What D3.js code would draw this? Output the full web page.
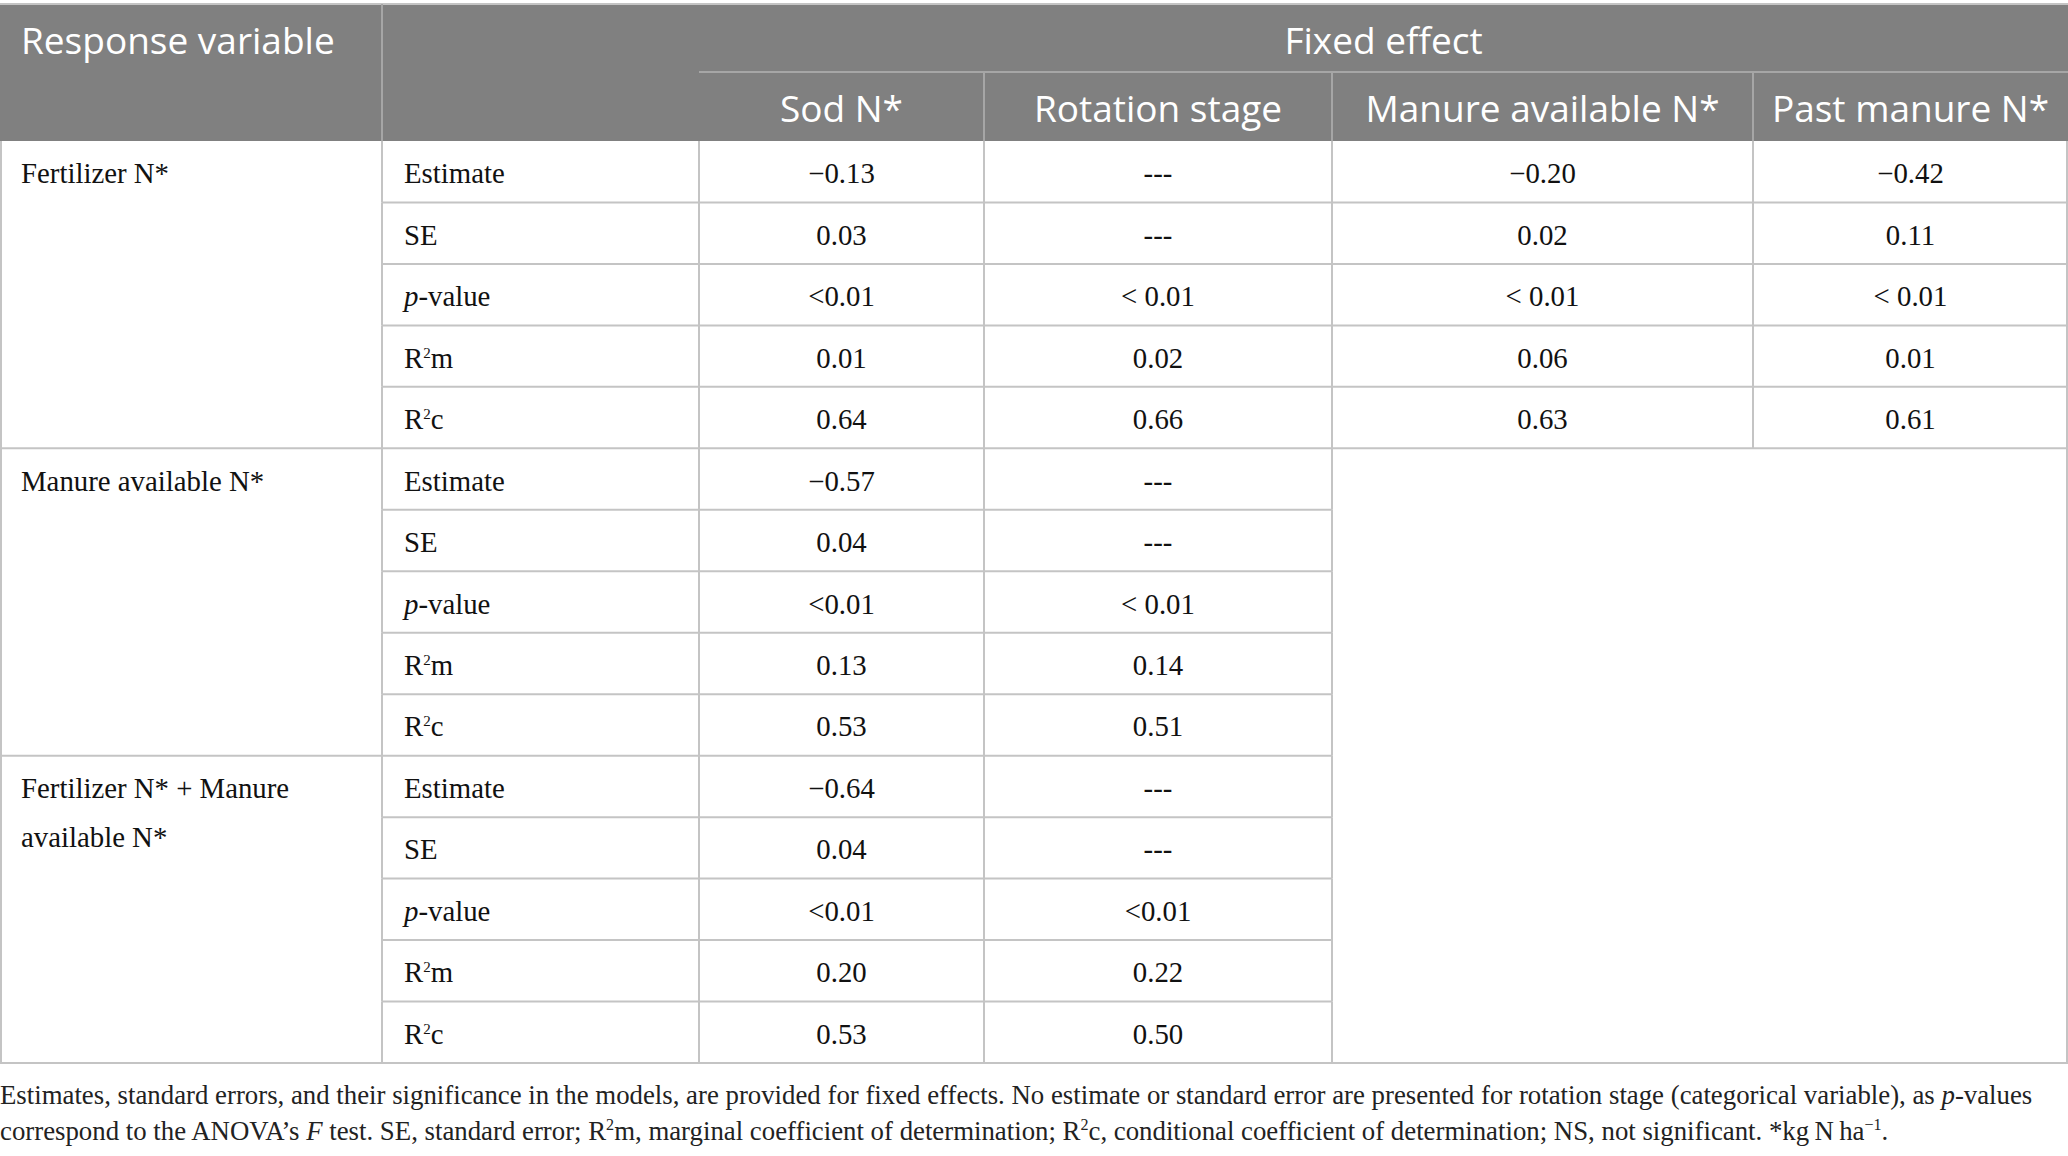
<!DOCTYPE html>
<html>
  <head>
    <meta charset="utf-8">
    <title>Fixed effects table</title>
    <style>
      body { margin: 0; background: #fff; }
    </style>
  </head>

  <body>
    <div id="container"></div>
  </body>

  <script src="https://cdn.jsdelivr.net/npm/d3@7"></script>

  <script>
  // table content
  var responseVars = ["Fertilizer N*", "Manure available N*", "Fertilizer N* + Manure available N*"];
  var fixedEffects = ["Sod N*", "Rotation stage", "Manure available N*", "Past manure N*"];
  var statistics = ["Estimate", "SE", "p-value", "R2m", "R2c"];

  // one row per statistic, one entry per fixed effect
  var fertilizerN = [
    ["\u22120.13", "---", "\u22120.20", "\u22120.42"],
    ["0.03", "---", "0.02", "0.11"],
    ["<0.01", "< 0.01", "< 0.01", "< 0.01"],
    ["0.01", "0.02", "0.06", "0.01"],
    ["0.64", "0.66", "0.63", "0.61"]
  ];
  var manureN = [
    ["\u22120.57", "---"],
    ["0.04", "---"],
    ["<0.01", "< 0.01"],
    ["0.13", "0.14"],
    ["0.53", "0.51"]
  ];
  var fertManureN = [
    ["\u22120.64", "---"],
    ["0.04", "---"],
    ["<0.01", "<0.01"],
    ["0.20", "0.22"],
    ["0.53", "0.50"]
  ];
  var groupValues = [fertilizerN, manureN, fertManureN];

  var captionLines = [
    "Estimates, standard errors, and their significance in the models, are provided for fixed effects. No estimate or standard error are presented for rotation stage (categorical variable), as |p|-values",
    "correspond to the ANOVA\u2019s |F| test. SE, standard error; R^2^m, marginal coefficient of determination; R^2^c, conditional coefficient of determination; NS, not significant. *kg\u2009N\u2009ha^\u22121^."
  ];

  function main() {
    var width = 2068, height = 1156;
    var serif = "'Liberation Serif', 'DejaVu Serif', serif";
    var sans = "'Open Sans', 'Noto Sans', sans-serif";
    var headFill = "#808080", gridCol = "#c4c4c4", headLine = "#a6a6a6";

    var svg = d3.select("#container").append("svg")
      .attr("width", width)
      .attr("height", height);

    // column edges
    var colKeys = ["response", "stat"].concat(fixedEffects);
    var edges = [0, 382, 699, 984, 1332, 1753, width];
    var x0 = d3.scaleOrdinal().domain(colKeys).range(edges.slice(0, 6));
    var x1 = d3.scaleOrdinal().domain(colKeys).range(edges.slice(1));
    var xc = function(k) { return (x0(k) + x1(k)) / 2; };

    var headTop = 4, headMid = 72, headBot = 141, tableBot = 1063;

    var rows = [];
    responseVars.forEach(function(r, gi) {
      statistics.forEach(function(s, si) {
        rows.push({ group: gi, stat: s, si: si, values: groupValues[gi][si] });
      });
    });
    var y = d3.scaleBand()
      .domain(d3.range(rows.length))
      .range([headBot, tableBot]);

    // header block
    svg.append("rect")
      .attr("x", 0).attr("y", headTop)
      .attr("width", width).attr("height", headBot - headTop)
      .attr("fill", headFill);
    svg.append("line")
      .attr("x1", 0).attr("x2", width).attr("y1", headTop).attr("y2", headTop)
      .attr("stroke", gridCol).attr("stroke-width", 2);
    svg.append("line")
      .attr("x1", x1("response")).attr("x2", x1("response"))
      .attr("y1", headTop).attr("y2", headBot)
      .attr("stroke", headLine).attr("stroke-width", 2);
    svg.append("line")
      .attr("x1", x0(fixedEffects[0])).attr("x2", width)
      .attr("y1", headMid).attr("y2", headMid)
      .attr("stroke", headLine).attr("stroke-width", 2);
    svg.selectAll(".hsep")
      .data(fixedEffects.slice(0, 3))
      .enter().append("line")
      .attr("x1", function(d) { return x1(d); })
      .attr("x2", function(d) { return x1(d); })
      .attr("y1", headMid).attr("y2", headBot)
      .attr("stroke", headLine).attr("stroke-width", 2);

    var headText = svg.append("g")
      .attr("font-family", sans)
      .attr("font-size", 37)
      .attr("fill", "#fff");
    headText.append("text")
      .attr("x", 21).attr("y", (headTop + headMid) / 2)
      .attr("dy", "0.42em")
      .text("Response variable");
    headText.append("text")
      .attr("x", (x0(fixedEffects[0]) + width) / 2)
      .attr("y", (headTop + headMid) / 2)
      .attr("dy", "0.42em")
      .attr("text-anchor", "middle")
      .text("Fixed effect");
    headText.selectAll(".fe")
      .data(fixedEffects)
      .enter().append("text")
      .attr("x", function(d) { return xc(d); })
      .attr("y", (headMid + headBot) / 2)
      .attr("dy", "0.42em")
      .attr("text-anchor", "middle")
      .text(function(d) { return d; });

    // body grid
    var grid = svg.append("g")
      .attr("stroke", gridCol)
      .attr("stroke-width", 2);

    rows.forEach(function(r, i) {
      var yb = y(i) + y.bandwidth();
      var lastInGroup = r.si === statistics.length - 1;
      var right = r.values.length === fixedEffects.length ? width : x1(fixedEffects[r.values.length - 1]);
      var nextRow = rows[i + 1];
      if (lastInGroup) {
        var rr = right;
        if (!nextRow || nextRow.values.length === fixedEffects.length) rr = width;
        grid.append("line")
          .attr("x1", 0).attr("x2", rr).attr("y1", yb).attr("y2", yb);
      } else {
        grid.append("line")
          .attr("x1", x0("stat")).attr("x2", right).attr("y1", yb).attr("y2", yb);
      }
      // vertical separators for this row
      var cols = ["stat"].concat(fixedEffects.slice(0, r.values.length));
      cols.forEach(function(k) {
        grid.append("line")
          .attr("x1", x0(k)).attr("x2", x0(k))
          .attr("y1", y(i)).attr("y2", yb);
      });
      grid.append("line")
        .attr("x1", right).attr("x2", right)
        .attr("y1", y(i)).attr("y2", yb);
    });
    // outer borders
    grid.append("line").attr("x1", 1).attr("x2", 1).attr("y1", headBot).attr("y2", tableBot);
    grid.append("line").attr("x1", width - 1).attr("x2", width - 1).attr("y1", headBot).attr("y2", tableBot);

    // body text
    var body = svg.append("g")
      .attr("font-family", serif)
      .attr("font-size", 28.8)
      .attr("fill", "#111");

    function statLabel(sel, s) {
      if (s === "p-value") {
        sel.append("tspan").attr("font-style", "italic").text("p");
        sel.append("tspan").text("-value");
      } else if (s === "R2m" || s === "R2c") {
        sel.append("tspan").text("R");
        sel.append("tspan").attr("font-size", 15).attr("dy", -10).text("2");
        sel.append("tspan").attr("dy", 10).text(s.slice(2));
      } else {
        sel.text(s);
      }
    }

    rows.forEach(function(r, i) {
      var cy = y(i) + y.bandwidth() / 2;
      body.append("text")
        .attr("x", x0("stat") + 22).attr("y", cy)
        .attr("dy", "0.4em")
        .call(statLabel, r.stat);
      r.values.forEach(function(v, j) {
        body.append("text")
          .attr("x", xc(fixedEffects[j])).attr("y", cy)
          .attr("dy", "0.4em")
          .attr("text-anchor", "middle")
          .text(v);
      });
    });

    // response labels, wrapped to the column width
    responseVars.forEach(function(label, gi) {
      var first = gi * statistics.length;
      var t = body.append("text")
        .attr("x", 21)
        .attr("y", y(first) + y.bandwidth() / 2)
        .attr("dy", "0.4em");
      var words = label.split(" "), line = [];
      var tspan = t.append("tspan").attr("x", 21);
      words.forEach(function(w) {
        line.push(w);
        tspan.text(line.join(" "));
        if (tspan.node().getComputedTextLength() > x1("response") - 50 && line.length > 1) {
          line.pop();
          tspan.text(line.join(" "));
          line = [w];
          tspan = t.append("tspan").attr("x", 21).attr("dy", 49).text(w);
        }
      });
    });

    // caption
    var cap = svg.append("g")
      .attr("font-family", serif)
      .attr("fill", "#222");
    var capY = [1095, 1131];
    function richText(sel, str) {
      // |..| italic, ^..^ superscript
      var parts = str.split(/(\|[^|]*\||\^[^^]*\^)/);
      var shift = 0;
      parts.forEach(function(p) {
        if (!p) return;
        var ts;
        if (p[0] === "|") {
          ts = sel.append("tspan").attr("font-style", "italic").text(p.slice(1, -1));
          if (shift) { ts.attr("dy", shift); shift = 0; }
        } else if (p[0] === "^") {
          sel.append("tspan").attr("font-size", "0.6em").attr("dy", -10).text(p.slice(1, -1));
          shift = 10;
        } else {
          ts = sel.append("tspan").text(p);
          if (shift) { ts.attr("dy", shift); shift = 0; }
        }
      });
    }
    var capTexts = captionLines.map(function(str, i) {
      var t = cap.append("text")
        .attr("x", 0).attr("y", capY[i])
        .attr("dy", "0.35em")
        .attr("font-size", 26);
      richText(t, str);
      return t;
    });
    // fit the first line to the page width
    var w0 = capTexts[0].node().getComputedTextLength();
    var fs = 26 * 2034 / w0;
    capTexts.forEach(function(t) { t.attr("font-size", fs); });
  }

  window.onload = main;
  </script>
</html>
